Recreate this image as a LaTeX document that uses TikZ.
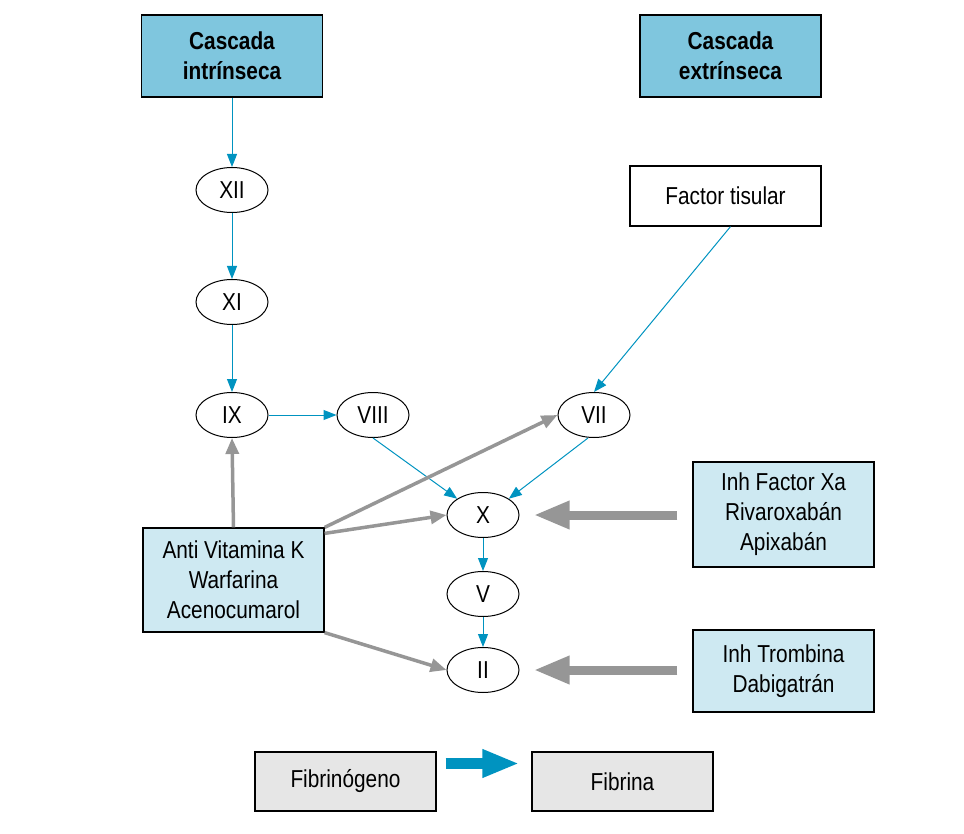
\documentclass[tikz,border=0pt]{standalone}
\usepackage{fontspec}
\setmainfont{Liberation Sans}[FakeStretch=0.85]
\usetikzlibrary{arrows.meta,shapes.geometric,calc}
\definecolor{hdr}{RGB}{127,198,222}
\definecolor{lite}{RGB}{206,233,242}
\definecolor{gbox}{RGB}{230,230,230}
\definecolor{bl}{RGB}{0,147,192}
\definecolor{gr}{RGB}{150,150,150}
\tikzset{
  box/.style={draw=black, line width=1.2pt, rectangle, inner sep=0pt, align=center,
    font=\fontsize{24.5}{30}\selectfont},
  hbox/.style={box, fill=hdr, minimum width=181pt, minimum height=82pt,
    font=\fontsize{24.5}{30}\selectfont\bfseries},
  fac/.style={draw=black, line width=1pt, ellipse, minimum width=72pt, minimum height=45pt,
    inner sep=0pt, font=\fontsize{24.5}{26}\selectfont},
  bla/.style={draw=bl, line width=1pt, -{Triangle[length=13pt,width=10pt]}},
  gra/.style={draw=gr, line width=3.5pt, -{Triangle[length=16pt,width=13pt]}},
  gbig/.style={draw=gr, line width=9pt, -{Triangle[length=36pt,width=26pt]}},
  bbig/.style={draw=bl, line width=11pt, -{Triangle[length=37pt,width=26pt]}},
}
\begin{document}
\begin{tikzpicture}[x=1pt,y=-1pt]
\useasboundingbox (0,0) rectangle (964,834);
% boxes
\node[hbox] (ci) at (232,56) {Cascada\\intrínseca};
\node[hbox] (ce) at (730.5,56) {Cascada\\extrínseca};
\node[box, fill=white, minimum width=191pt, minimum height=60pt] (ft) at (725.5,196) {Factor tisular};
\node[box, fill=lite, minimum width=181pt, minimum height=104pt] (av) at (233.5,580) {Anti Vitamina K\\Warfarina\\Acenocumarol};
\node[box, fill=lite, minimum width=181pt, minimum height=105pt] (ixa) at (783.5,514.5) {Inh Factor Xa\\Rivaroxabán\\Apixabán};
\node[box, fill=lite, minimum width=181pt, minimum height=82pt] (it) at (783.5,671) {Inh Trombina\\Dabigatrán};
\node[box, fill=gbox, minimum width=181pt, minimum height=59pt] (fg) at (345.5,781.5) {Fibrinógeno};
\node[box, fill=gbox, minimum width=181pt, minimum height=59pt] (fb) at (622.5,781.5) {Fibrina};
% factors
\node[fac] (f12) at (232,190) {XII};
\node[fac] (f11) at (232,302) {XI};
\node[fac] (f9) at (232,415) {IX};
\node[fac] (f8) at (373,415) {VIII};
\node[fac] (f7) at (594,415) {VII};
\node[fac] (f10) at (483,515) {X};
\node[fac] (f5) at (483,594) {V};
\node[fac] (f2) at (483,670) {II};
% blue connectors
\draw[bla] (ci) -- (f12);
\draw[bla] (f12) -- (f11);
\draw[bla] (f11) -- (f9);
\draw[bla] (f9) -- (f8);
\draw[bla] (f8.south) -- (f10.north west);
\draw[bla] ($(f7.south)+(-6,0)$) -- (f10.north east);
\draw[bla] ($(ft.south)+(5,0)$) -- (f7.north);
\draw[bla] (f10) -- (f5);
\draw[bla] (f5) -- (f2);
% gray connectors
\draw[gra] (av.north) -- (f9.south);
\draw[gra] (av.north east) -- (f7.west);
\draw[gra] ([yshift=-6pt]av.north east) -- (f10.west);
\draw[gra] (av.south east) -- (f2.west);
% thick arrows
\draw[gbig, shorten <=15pt, shorten >=14pt] (ixa.west |- f10) -- (f10.east);
\draw[gbig, shorten <=15pt, shorten >=14pt] (it.west |- f2) -- (f2.east);
\draw[bbig, shorten <=9pt, shorten >=12pt] ([yshift=18pt]fg.east) -- ([yshift=18pt]fb.west);
\end{tikzpicture}
\end{document}
